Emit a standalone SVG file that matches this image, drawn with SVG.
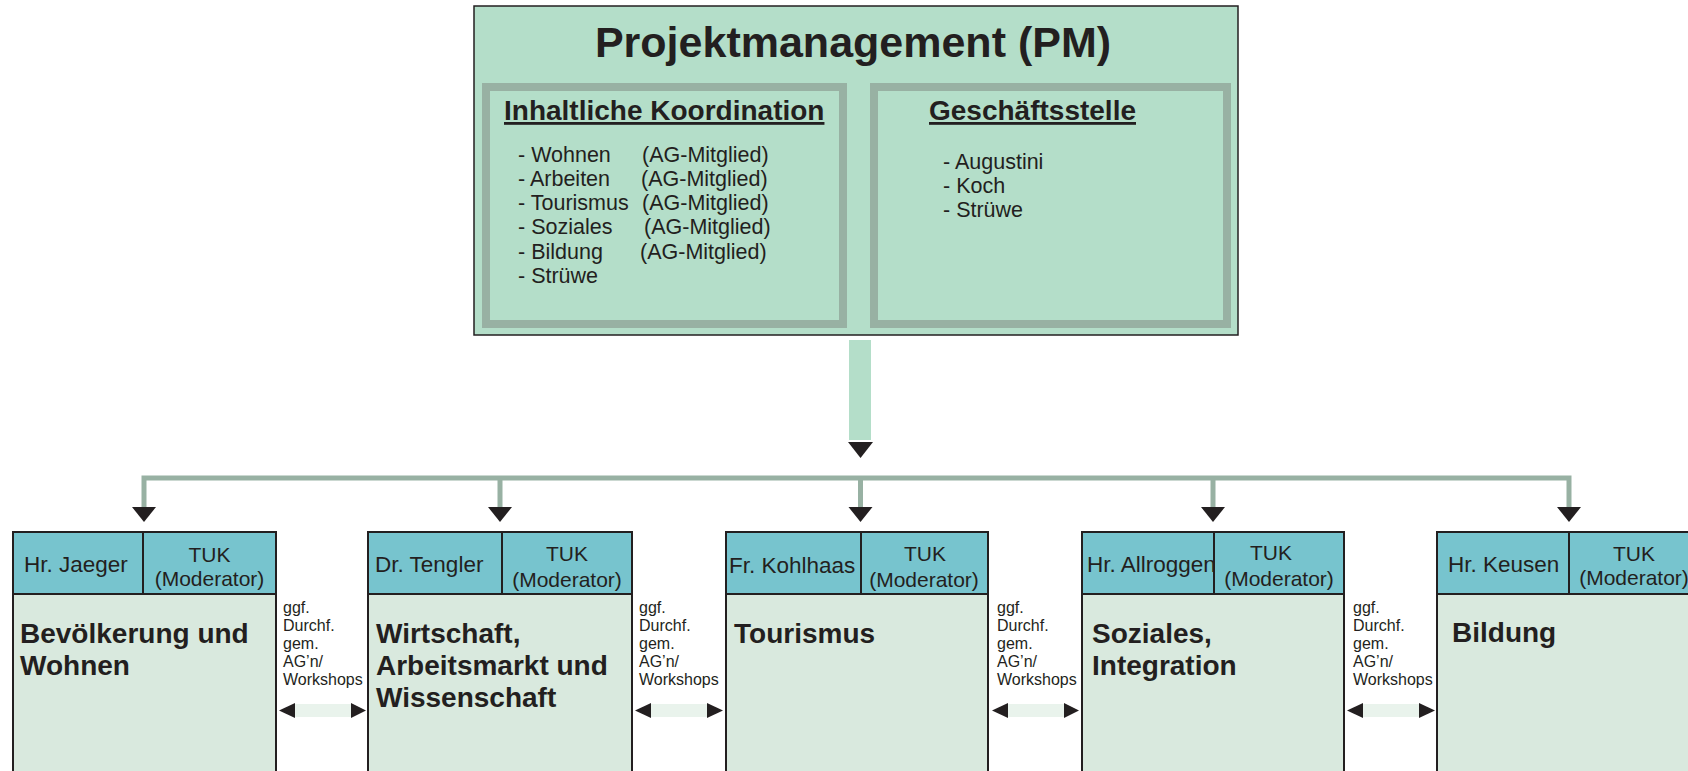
<svg xmlns="http://www.w3.org/2000/svg" width="1688" height="771" viewBox="0 0 1688 771">
  <style>
    text { font-family: "Liberation Sans", Arial, sans-serif; fill: #231f20; }
    .title { font-size: 43px; font-weight: bold; }
    .sub { font-size: 28px; font-weight: bold; text-decoration: underline; }
    .list { font-size: 21.5px; }
    .hdr { font-size: 21px; }
    .name { font-size: 22.5px; }
    .body { font-size: 28px; font-weight: bold; }
    .gap { font-size: 16px; }
    .pm { fill: #b4dec9; stroke: #231f20; stroke-width: 1.5; }
    .inner { fill: #b4dec9; stroke: #98b1a3; stroke-width: 8; }
    .hcell { fill: #77c4ce; stroke: #231f20; stroke-width: 2; }
    .bcell { fill: #d9e9de; stroke: #231f20; stroke-width: 2; }
    .conn { fill: none; stroke: #98b1a3; stroke-width: 5; }
    .head { fill: #231f20; }
    .bar { fill: #e9f3ec; }
  </style>
  <defs>
    <path id="down" d="M-12,0 L12,0 L0,15 Z"/>
  </defs>
  <rect width="1688" height="771" fill="#ffffff"/>

  <g id="pm">
    <rect class="pm" x="474" y="6" width="764" height="329"/>
    <text class="title" x="853" y="57" text-anchor="middle">Projektmanagement (PM)</text>
    <g id="koordination">
      <rect class="inner" x="486" y="87" width="357" height="237"/>
      <text class="sub" x="504" y="120">Inhaltliche Koordination</text>
      <text class="list" x="518" y="162">- Wohnen</text><text class="list" x="642" y="162">(AG-Mitglied)</text>
      <text class="list" x="518" y="186">- Arbeiten</text><text class="list" x="641" y="186">(AG-Mitglied)</text>
      <text class="list" x="518" y="210">- Tourismus</text><text class="list" x="642" y="210">(AG-Mitglied)</text>
      <text class="list" x="518" y="234">- Soziales</text><text class="list" x="644" y="234">(AG-Mitglied)</text>
      <text class="list" x="518" y="259">- Bildung</text><text class="list" x="640" y="259">(AG-Mitglied)</text>
      <text class="list" x="518" y="283">- Strüwe</text>
    </g>
    <g id="geschaeftsstelle">
      <rect class="inner" x="874" y="87" width="353" height="237"/>
      <text class="sub" x="929" y="120">Geschäftsstelle</text>
      <text class="list" x="943" y="169">- Augustini</text>
      <text class="list" x="943" y="193">- Koch</text>
      <text class="list" x="943" y="217">- Strüwe</text>
    </g>
  </g>

  <g id="connectors">
    <rect x="849" y="340" width="22" height="100" fill="#b4dec9"/>
    <polygon class="head" points="848,442 873,442 860.5,458"/>
    <path class="conn" d="M144,507 V478 H1569 V507"/>
    <path class="conn" d="M500,478 V507 M860.5,478 V507 M1213,478 V507"/>
    <use href="#down" class="head" x="144" y="507"/>
    <use href="#down" class="head" x="500" y="507"/>
    <use href="#down" class="head" x="860.5" y="507"/>
    <use href="#down" class="head" x="1213" y="507"/>
    <use href="#down" class="head" x="1569" y="507"/>
    <g id="gap1">
      <polygon class="head" points="279,710.5 295,703 295,718"/>
      <rect class="bar" x="295" y="704" width="56" height="13"/>
      <polygon class="head" points="351,703 351,718 366,710.5"/>
    </g>
    <g id="gap2">
      <polygon class="head" points="635,710.5 651,703 651,718"/>
      <rect class="bar" x="651" y="704" width="56" height="13"/>
      <polygon class="head" points="707,703 707,718 723,710.5"/>
    </g>
    <g id="gap3">
      <polygon class="head" points="992,710.5 1008,703 1008,718"/>
      <rect class="bar" x="1008" y="704" width="56" height="13"/>
      <polygon class="head" points="1064,703 1064,718 1079,710.5"/>
    </g>
    <g id="gap4">
      <polygon class="head" points="1347,710.5 1363,703 1363,718"/>
      <rect class="bar" x="1363" y="704" width="56" height="13"/>
      <polygon class="head" points="1419,703 1419,718 1435,710.5"/>
    </g>
  </g>

  <g id="gap-labels">
    <text class="gap" x="283" y="613">ggf.<tspan x="283" dy="18">Durchf.</tspan><tspan x="283" dy="18">gem.</tspan><tspan x="283" dy="18">AG’n/</tspan><tspan x="283" dy="18">Workshops</tspan></text>
    <text class="gap" x="639" y="613">ggf.<tspan x="639" dy="18">Durchf.</tspan><tspan x="639" dy="18">gem.</tspan><tspan x="639" dy="18">AG’n/</tspan><tspan x="639" dy="18">Workshops</tspan></text>
    <text class="gap" x="997" y="613">ggf.<tspan x="997" dy="18">Durchf.</tspan><tspan x="997" dy="18">gem.</tspan><tspan x="997" dy="18">AG’n/</tspan><tspan x="997" dy="18">Workshops</tspan></text>
    <text class="gap" x="1353" y="613">ggf.<tspan x="1353" dy="18">Durchf.</tspan><tspan x="1353" dy="18">gem.</tspan><tspan x="1353" dy="18">AG’n/</tspan><tspan x="1353" dy="18">Workshops</tspan></text>
  </g>

  <g id="ag-wohnen">
    <rect class="bcell" x="13" y="594" width="263" height="190"/>
    <rect class="hcell" x="13" y="532" width="130" height="62"/>
    <rect class="hcell" x="143" y="532" width="133" height="62"/>
    <text class="name" x="24" y="572">Hr. Jaeger</text>
    <text class="hdr" x="209.5" y="562" text-anchor="middle">TUK</text>
    <text class="hdr" x="209.5" y="586" text-anchor="middle">(Moderator)</text>
    <text class="body" x="20" y="643">Bevölkerung und</text>
    <text class="body" x="20" y="675">Wohnen</text>
  </g>

  <g id="ag-wirtschaft">
    <rect class="bcell" x="368" y="594" width="264" height="190"/>
    <rect class="hcell" x="368" y="532" width="134" height="62"/>
    <rect class="hcell" x="502" y="532" width="130" height="62"/>
    <text class="name" x="375" y="572">Dr. Tengler</text>
    <text class="hdr" x="567" y="561" text-anchor="middle">TUK</text>
    <text class="hdr" x="567" y="587" text-anchor="middle">(Moderator)</text>
    <text class="body" x="376" y="643">Wirtschaft,</text>
    <text class="body" x="376" y="675">Arbeitsmarkt und</text>
    <text class="body" x="376" y="707">Wissenschaft</text>
  </g>

  <g id="ag-tourismus">
    <rect class="bcell" x="726" y="594" width="262" height="190"/>
    <rect class="hcell" x="726" y="532" width="135" height="62"/>
    <rect class="hcell" x="861" y="532" width="127" height="62"/>
    <text class="name" x="729" y="573">Fr. Kohlhaas</text>
    <text class="hdr" x="925" y="561" text-anchor="middle">TUK</text>
    <text class="hdr" x="924" y="587" text-anchor="middle">(Moderator)</text>
    <text class="body" x="734" y="643">Tourismus</text>
  </g>

  <g id="ag-soziales">
    <rect class="bcell" x="1082" y="594" width="262" height="190"/>
    <rect class="hcell" x="1082" y="532" width="132" height="62"/>
    <rect class="hcell" x="1214" y="532" width="130" height="62"/>
    <text class="name" x="1087" y="572">Hr. Allroggen</text>
    <text class="hdr" x="1271" y="560" text-anchor="middle">TUK</text>
    <text class="hdr" x="1279" y="586" text-anchor="middle">(Moderator)</text>
    <text class="body" x="1092" y="643">Soziales,</text>
    <text class="body" x="1092" y="675">Integration</text>
  </g>

  <g id="ag-bildung">
    <rect class="bcell" x="1437" y="594" width="263" height="190"/>
    <rect class="hcell" x="1437" y="532" width="132" height="62"/>
    <rect class="hcell" x="1569" y="532" width="131" height="62"/>
    <text class="name" x="1448" y="572">Hr. Keusen</text>
    <text class="hdr" x="1634" y="561" text-anchor="middle">TUK</text>
    <text class="hdr" x="1634" y="585" text-anchor="middle">(Moderator)</text>
    <text class="body" x="1452" y="642">Bildung</text>
  </g>
</svg>
